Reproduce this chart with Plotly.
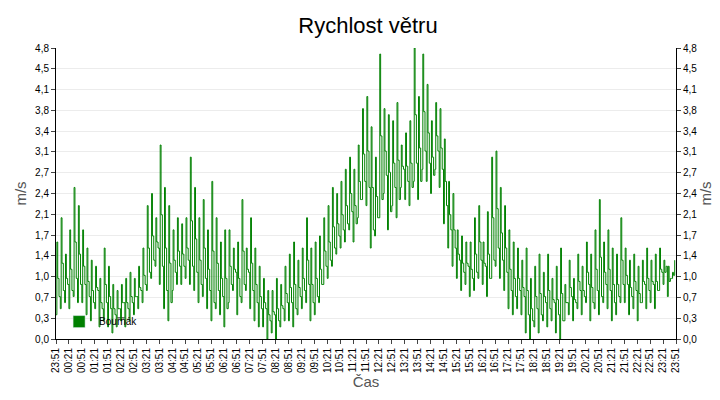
import plotly.graph_objects as go

# 10-minute min / max wind speed, 23:51 .. 23:51 next day (m/s)
lo = [0.4,0.5,0.6,0.5,0.7,0.6, 0.6,0.4,0.3,0.5,0.2,0.3, 0.2,0.1,0.2,0.3,0.2,0.3,
      0.4,0.5,0.6,0.8,1.0,1.2, 0.9,0.5,0.3,0.8,0.9,0.9, 1.0,0.9,0.8,0.6,0.7,0.5,
      0.3,0.5,0.4,0.2,0.6,0.8, 0.4,0.6,0.8,0.5,0.3,0.2, 0.2,0.0,0.1,0.0,0.2,0.3,
      0.3,0.2,0.4,0.5,0.6,0.3, 0.4,0.6,0.9,1.0,1.2,1.4, 1.5,1.6,1.8,1.6,2.0,2.3,
      2.2,1.5,1.7,2.0,2.4,1.8, 2.2,2.0,2.5,2.3,2.2,2.6, 2.3,2.8,2.6,2.4,2.8,2.5,
      1.9,1.5,1.2,1.0,0.8,0.9, 0.7,0.8,1.0,0.9,0.7,1.0, 1.2,1.0,0.8,0.5,0.4,0.5,
      0.4,0.1,0.0,0.2,0.1,0.3, 0.2,0.3,0.1,0.0,0.3,0.4, 0.3,0.5,0.4,0.6,0.3,0.5,
      0.4,0.6,0.5,0.3,0.4,0.6, 0.6,0.4,0.5,0.3,0.6,0.5, 0.6,0.5,0.8,0.9,0.7,1.0]
hi = [1.6,2.0,1.4,1.8,2.5,2.2, 1.8,1.5,1.3,1.2,1.0,1.5, 1.2,0.9,0.8,0.9,1.0,1.1,
      1.0,1.2,1.5,2.2,2.4,2.0, 3.2,2.5,2.2,1.8,2.0,1.9, 2.0,3.0,2.5,2.0,2.3,1.8,
      2.6,2.0,1.6,1.8,1.8,1.5, 1.6,2.3,1.5,2.0,1.5,1.2, 1.0,0.8,0.8,1.0,0.9,1.2,
      1.4,1.6,1.3,1.5,2.0,1.5, 1.6,1.7,2.0,2.2,2.5,2.4, 2.6,2.8,3.0,2.8,3.2,3.8,
      4.0,3.5,3.0,4.7,3.8,3.7, 3.6,3.9,3.2,3.4,3.6,4.8, 4.0,4.7,4.2,3.6,3.9,3.8,
      3.3,2.6,2.4,1.8,1.7,1.6, 1.6,2.0,2.2,1.6,2.1,3.0, 3.1,2.5,2.2,1.8,1.6,1.5,
      1.3,1.5,1.0,1.2,1.4,1.1, 1.4,1.0,1.2,1.5,0.9,1.3, 1.0,1.4,1.2,1.6,1.4,1.8,
      2.3,1.6,1.8,1.5,1.4,2.0, 1.5,1.3,1.4,1.2,1.3,1.5, 1.3,1.4,1.5,1.3,1.2,1.1]

tick_labels = []
for i in range(49):
    m = (23 * 60 + 51 + 30 * i) % 1440
    tick_labels.append("%02d:%02d" % (m // 60, m % 60))
y_ticks = [0, 0.3, 0.7, 1.0, 1.4, 1.7, 2.1, 2.4, 2.7, 3.1, 3.4, 3.8, 4.1, 4.5, 4.8]
y_vals = [4.8 * i / 14 for i in range(15)]
y_text = [("%.1f" % v).replace(".", ",") for v in y_ticks]

xs, ys = [], []
for i in range(len(lo)):
    xs += [i * 10, i * 10 + 2, i * 10 + 4, i * 10 + 7]
    ys += [lo[i], hi[i], (lo[i] + hi[i]) / 2, lo[i] + 0.3]

fig = go.Figure()
fig.add_trace(go.Scatter(x=xs, y=ys, mode="lines", line=dict(color="green", width=1, shape="hv"),
                         fill="tozeroy", fillcolor="rgba(0,128,0,0)", showlegend=False))
# legend entry with a square swatch
fig.add_trace(go.Bar(x=[None], y=[None], marker_color="green", name="Bouřňák"))
# ghost trace so the right axis shows
fig.add_trace(go.Scatter(x=[0], y=[0], yaxis="y2", mode="markers", marker=dict(opacity=0),
                         showlegend=False, hoverinfo="skip"))

axfont = dict(family="Liberation Sans, Arial", size=10, color="black")
tfont = dict(family="Liberation Sans, Arial", size=15, color="#555")
fig.update_layout(
    width=720, height=400, plot_bgcolor="white", paper_bgcolor="white",
    margin=dict(l=48, r=52, t=40, b=69, autoexpand=False),
    title=dict(text="Rychlost větru", x=0.5, y=0.975, automargin=False,
               font=dict(family="Liberation Sans, Arial", size=22, color="black")),
    showlegend=True,
    legend=dict(x=0.005, y=0.01, xanchor="left", yanchor="bottom", bgcolor="rgba(255,255,255,0)",
                font=axfont),
    xaxis=dict(range=[0, 1440], tickvals=[30 * i for i in range(49)], ticktext=tick_labels,
               tickangle=-90, tickfont=axfont, showgrid=False, showline=True, linecolor="black",
               ticks="outside", ticklen=4, automargin=False,
               title=dict(text="Čas", font=tfont, standoff=4)),
    yaxis=dict(range=[0, 4.8], tickvals=y_vals, ticktext=y_text, tickfont=axfont,
               showgrid=True, gridcolor="#ececec", showline=True, linecolor="black",
               ticks="outside", ticklen=4, zeroline=False, automargin=False,
               title=dict(text="m/s", font=tfont, standoff=4)),
    yaxis2=dict(range=[0, 4.8], tickvals=y_vals, ticktext=y_text, tickfont=axfont, overlaying="y",
                side="right", showgrid=False, showline=True, linecolor="black", ticks="outside", ticklen=4,
                zeroline=False, automargin=False,
                title=dict(text="m/s", font=tfont, standoff=4)),
)
fig.write_html("out.html")
